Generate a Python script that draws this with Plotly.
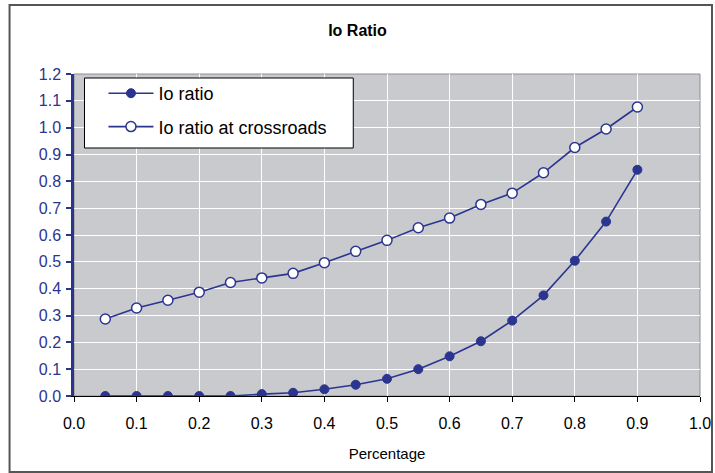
import plotly.graph_objects as go

percentage = [0.05, 0.10, 0.15, 0.20, 0.25, 0.30, 0.35, 0.40, 0.45, 0.50,
              0.55, 0.60, 0.65, 0.70, 0.75, 0.80, 0.85, 0.90]
io_ratio = [0.0, 0.0, 0.0, 0.0, 0.0, 0.007, 0.012, 0.025, 0.042, 0.064,
            0.100, 0.148, 0.204, 0.281, 0.375, 0.504, 0.650, 0.843]
io_ratio_crossroads = [0.287, 0.328, 0.357, 0.387, 0.423, 0.440, 0.457, 0.497, 0.539, 0.580,
                       0.627, 0.663, 0.714, 0.756, 0.832, 0.926, 0.995, 1.077]

navy = "#2B3590"
font = "Liberation Sans, Arial, sans-serif"

fig = go.Figure()
fig.add_trace(go.Scatter(
    x=percentage, y=io_ratio, mode="lines+markers", name="Io ratio",
    legendgroup="a",
    line=dict(color=navy, width=1.6),
    marker=dict(symbol="circle", size=9, color=navy, line=dict(color=navy, width=1)),
))
fig.add_trace(go.Scatter(
    x=percentage, y=io_ratio_crossroads, mode="lines+markers", name="Io ratio at crossroads",
    legendgroup="b",
    line=dict(color=navy, width=1.6),
    marker=dict(symbol="circle", size=10, color="white", line=dict(color=navy, width=1.5)),
))

L, R, T, B = 73.5, 15, 74, 77
W, H = 715, 473
pw, ph = W - L - R, H - T - B

def px_x(p):
    return (p - L) / pw

def px_y(p):
    return (H - B - p) / ph

fig.update_layout(
    width=W, height=H,
    margin=dict(l=L, r=R, t=T, b=B, autoexpand=False),
    paper_bgcolor="white",
    plot_bgcolor="#C9CACE",
    font=dict(family=font, size=16, color="black"),
    title=dict(text="<b>Io Ratio</b>", x=0.5, xanchor="center",
               y=1 - 30 / H, yanchor="middle", yref="container",
               font=dict(family=font, size=16, color="black")),
    showlegend=True,
    legend=dict(x=px_x(103), y=px_y(75), xanchor="left", yanchor="top",
                bgcolor="rgba(0,0,0,0)", borderwidth=0,
                font=dict(family=font, size=18, color="black"),
                itemwidth=45, traceorder="grouped", tracegroupgap=7),
    xaxis=dict(range=[0, 1.0], dtick=0.1, tick0=0, tickformat=".1f",
               showgrid=True, gridcolor="white", gridwidth=1,
               showline=True, linecolor="black", linewidth=1,
               ticks="outside", ticklen=5, tickcolor="black",
               ticklabelstandoff=8,
               tickfont=dict(family=font, size=16, color="black"),
               title=dict(text="Percentage", font=dict(family=font, size=15, color="black"), standoff=17),
               zeroline=False, automargin=False),
    yaxis=dict(range=[0, 1.2], dtick=0.1, tick0=0, tickformat=".1f",
               showgrid=True, gridcolor="white", gridwidth=1,
               showline=True, linecolor=navy, linewidth=2.5,
               ticks="outside", ticklen=5, tickcolor=navy, tickwidth=2,
               ticklabelstandoff=2,
               tickfont=dict(family=font, size=16, color=navy),
               zeroline=False, automargin=False),
)

# plot area border (top/right gray)
fig.add_shape(type="rect", xref="paper", yref="paper", x0=0, x1=1, y0=0, y1=1,
              line=dict(color="#8E8E92", width=1), layer="below")
# legend box
fig.add_shape(type="rect", xref="paper", yref="paper",
              x0=px_x(84), x1=px_x(353), y0=px_y(148), y1=px_y(78),
              fillcolor="white", line=dict(color="black", width=1), layer="above")
# outer chart border
fig.add_shape(type="rect", xref="paper", yref="paper",
              x0=px_x(9), x1=px_x(712), y0=px_y(472), y1=px_y(5),
              line=dict(color="#555555", width=2))

fig.write_html("out.html")
